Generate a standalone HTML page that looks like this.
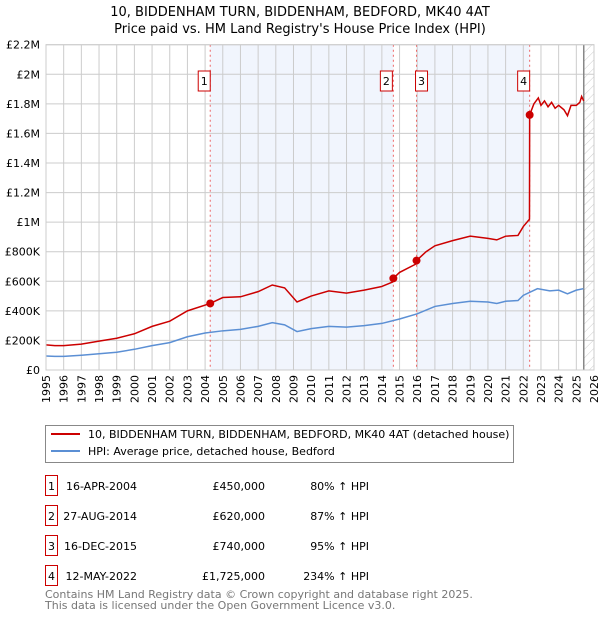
<!DOCTYPE html>
<html><head><meta charset="utf-8"><style>
body{margin:0;background:#fff;font-family:"DejaVu Sans","Liberation Sans",sans-serif;}
svg text{font-family:"DejaVu Sans","Liberation Sans",sans-serif;}
</style></head><body>
<svg width="600" height="620" xmlns="http://www.w3.org/2000/svg">
<defs><pattern id="hatch" width="6" height="6" patternUnits="userSpaceOnUse" patternTransform="rotate(45)"><line x1="0" y1="0" x2="0" y2="6" stroke="#ccc" stroke-width="1"/></pattern></defs>
<text x="300" y="16" text-anchor="middle" font-size="13">10, BIDDENHAM TURN, BIDDENHAM, BEDFORD, MK40 4AT</text>
<text x="300" y="33" text-anchor="middle" font-size="13">Price paid vs. HM Land Registry's House Price Index (HPI)</text>
<g id="plot"></g>
<g>
<rect x="45.5" y="425.5" width="468" height="37" fill="#fff" stroke="#888"/>
<line x1="51" y1="434" x2="80" y2="434" stroke="#cc0000" stroke-width="2"/>
<text x="88" y="438" font-size="11">10, BIDDENHAM TURN, BIDDENHAM, BEDFORD, MK40 4AT (detached house)</text>
<line x1="51" y1="451" x2="80" y2="451" stroke="#5b8fd4" stroke-width="2"/>
<text x="88" y="455" font-size="11">HPI: Average price, detached house, Bedford</text>
</g>
<g id="table" font-size="11"></g>
<text x="45" y="598" font-size="11" fill="#777">Contains HM Land Registry data © Crown copyright and database right 2025.</text>
<text x="45" y="609" font-size="11" fill="#777">This data is licensed under the Open Government Licence v3.0.</text>
</svg>
<script>
const yTicks=[0,200000,400000,600000,800000,1000000,1200000,1400000,1600000,1800000,2000000,2200000];
const yTickLabels=["£0","£200K","£400K","£600K","£800K","£1M","£1.2M","£1.4M","£1.6M","£1.8M","£2M","£2.2M"];
const years=[1995,1996,1997,1998,1999,2000,2001,2002,2003,2004,2005,2006,2007,2008,2009,2010,2011,2012,2013,2014,2015,2016,2017,2018,2019,2020,2021,2022,2023,2024,2025,2026];
const hpiT=[1995,1995.5,1996,1997,1998,1999,2000,2001,2002,2003,2004,2005,2006,2007,2007.8,2008.5,2009.2,2010,2011,2012,2013,2014,2015,2016,2017,2018,2019,2020,2020.5,2021,2021.7,2022,2022.8,2023.5,2024,2024.5,2025,2025.4];
const hpiV=[95000,92000,92000,100000,110000,120000,140000,165000,185000,225000,250000,265000,275000,295000,320000,305000,260000,280000,295000,290000,300000,315000,345000,380000,430000,450000,465000,460000,450000,465000,470000,505000,550000,535000,540000,515000,540000,550000];
const redT=[1995,1995.5,1996,1997,1998,1999,2000,2001,2002,2003,2004.29,2005,2006,2007,2007.8,2008.5,2009.2,2010,2011,2012,2013,2014,2014.6,2014.65,2015,2015.9,2015.96,2016.5,2017,2018,2019,2020,2020.5,2021,2021.7,2022,2022.35,2022.36,2022.6,2022.85,2023,2023.2,2023.4,2023.6,2023.8,2024,2024.3,2024.5,2024.7,2025,2025.2,2025.3,2025.42];
const redV=[170000,165000,165000,175000,195000,215000,245000,295000,330000,400000,450000,490000,495000,530000,575000,555000,460000,500000,535000,520000,540000,565000,595000,620000,660000,715000,740000,800000,840000,875000,905000,890000,880000,905000,910000,970000,1020000,1725000,1800000,1840000,1790000,1820000,1780000,1810000,1770000,1790000,1760000,1720000,1790000,1790000,1810000,1850000,1820000];
const saleLabels=["1","2","3","4"];
const saleT=[2004.29,2014.65,2015.96,2022.36];
const saleV=[450000,620000,740000,1725000];
const saleDates=["16-APR-2004","27-AUG-2014","16-DEC-2015","12-MAY-2022"];
const salePrices=["£450,000","£620,000","£740,000","£1,725,000"];
const saleHpi=["80% ↑ HPI","87% ↑ HPI","95% ↑ HPI","234% ↑ HPI"];
const dataEnd=2025.42;
const X0=46,X1=594,Y0=370,Y1=44.7;
const xs=t=>X0+(t-1995)/(2026-1995)*(X1-X0);
const ys=v=>Y0-v/2200000*(Y0-Y1);
const NS="http://www.w3.org/2000/svg";
const plot=document.getElementById('plot');
function mk(tag,at,parent){const e=document.createElementNS(NS,tag);for(const k in at)e.setAttribute(k,at[k]);(parent||plot).appendChild(e);return e;}
let bg=mk('rect',{x:X0,y:Y1,width:X1-X0,height:Y0-Y1,fill:'#fff'});


[[0,1],[2,3]].forEach(p=>{let r=mk('rect',{x:xs(saleT[p[0]]),y:Y1,width:xs(saleT[p[1]])-xs(saleT[p[0]]),height:Y0-Y1,fill:'#eef3fc',opacity:0.8});

});
let h=mk('rect',{x:xs(dataEnd),y:Y1,width:X1-xs(dataEnd),height:Y0-Y1,fill:'url(#hatch)'});


years.forEach(y=>{let l=mk('line',{x1:xs(y),x2:xs(y),y1:Y1,y2:Y0,stroke:'#ccc','stroke-width':1});


let t=mk('text',{x:0,y:0,'font-size':11,'text-anchor':'end',transform:`translate(${xs(y)+4},${Y0+5}) rotate(-90)`});
t.textContent=y;

});
yTicks.forEach((v,i)=>{let l=mk('line',{x1:X0,x2:X1,y1:ys(v),y2:ys(v),stroke:'#ccc','stroke-width':1});


let t=mk('text',{x:X0-6,y:ys(v)+4,'font-size':11,'text-anchor':'end'});
t.textContent=yTickLabels[i];

});
let dl=mk('line',{x1:xs(dataEnd),x2:xs(dataEnd),y1:Y1,y2:Y0,stroke:'#888','stroke-width':1.5});


saleT.forEach((t,i)=>{let l=mk('line',{x1:xs(t),x2:xs(t),y1:Y1,y2:Y0,stroke:'#ee6666','stroke-dasharray':'2,3','stroke-width':1});


const bx=xs(t)+(i===2?-3:-8);
const bxx=i===1?xs(t)-13:(i===2?xs(t)-1:bx-4);
let r=mk('rect',{x:bxx,y:71,width:12,height:20,fill:'#fff',stroke:'#cc0000'});


let tx=mk('text',{x:bxx+6,y:85,'font-size':11,'text-anchor':'middle'});
tx.textContent=saleLabels[i];

});
let hp=mk('polyline',{points:hpiT.map((t,i)=>xs(t)+','+ys(hpiV[i])).join(' '),fill:'none',stroke:'#5b8fd4','stroke-width':1.5});


let rp=mk('polyline',{points:redT.map((t,i)=>xs(t)+','+ys(redV[i])).join(' '),fill:'none',stroke:'#cc0000','stroke-width':1.5});


saleT.forEach((t,i)=>{let c=mk('circle',{cx:xs(t),cy:ys(saleV[i]),r:4,fill:'#cc0000'});

});
let ax=mk('rect',{x:X0,y:Y1,width:X1-X0,height:Y0-Y1,fill:'none',stroke:'#ccc'});


const tb=document.getElementById('table');
saleLabels.forEach((s,i)=>{const y=483+i*30;
let r=mk('rect',{x:45.5,y:y-7.5,width:12,height:20,fill:'#fff',stroke:'#cc0000'},tb);


const cells=[[51.5,s,'middle'],[137,saleDates[i],'end'],[265,salePrices[i],'end'],[369,saleHpi[i],'end']];
cells.forEach(c=>{let t=mk('text',{x:c[0],y:y+7,'text-anchor':c[2]},tb);t.textContent=c[1];

});});
</script>
</body></html>
